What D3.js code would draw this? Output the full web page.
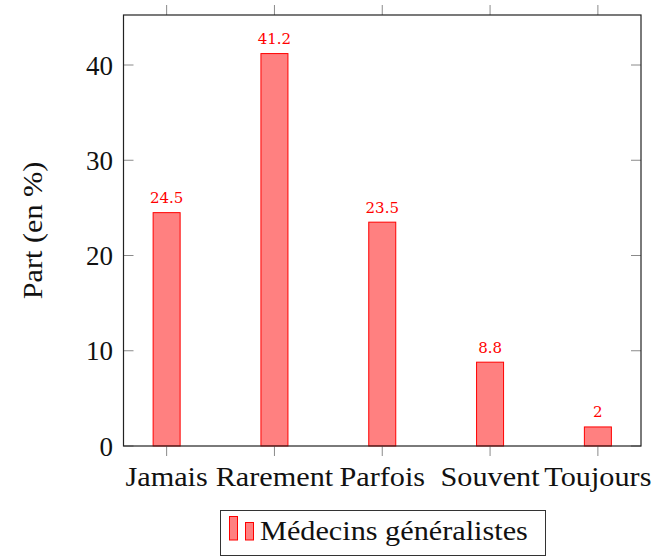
<!DOCTYPE html>
<html><head><meta charset="utf-8">
<script src="https://cdn.jsdelivr.net/npm/d3@7"></script>
<style>
body{margin:0;background:#fff}
svg{display:block}
svg text{font-family:"Liberation Serif",serif;font-size:27px;fill:#111}
svg text.val{font-family:"DejaVu Serif",serif;font-size:15px;fill:#ff0000}
</style>
</head><body><svg id="c" width="657" height="558"></svg>
<script>
const categories = ["Jamais","Rarement","Parfois","Souvent","Toujours"];
const values = [24.5, 41.2, 23.5, 8.8, 2];
const yTicks = [0, 10, 20, 30, 40];
const seriesName = "Médecins généralistes";
const yLabel = "Part (en %)";

const svg = d3.select("#c");
const L = 123.5, R = 641, T = 15, B = 446;
const x = d3.scalePoint().domain(categories).range([L, R]).padding(0.4);
const y = d3.scaleLinear().domain([0, 45.25]).range([B, T]);
const bw = 27;

// bars
svg.append("g").selectAll("rect").data(values).join("rect")
  .attr("x", (d,i) => x(categories[i]) - bw/2)
  .attr("y", d => y(d))
  .attr("width", bw)
  .attr("height", d => y(0) - y(d))
  .attr("fill", "#ff8080").attr("stroke", "#ff0000").attr("stroke-width", 1);

// value labels
svg.append("g").selectAll("text").data(values).join("text")
  .attr("class", "val")
  .attr("x", (d,i) => x(categories[i]))
  .attr("y", d => y(d) - 9.5)
  .attr("text-anchor", "middle")
  .text(d => d);

// ticks
const tk = svg.append("g").attr("stroke", "#8a8a8a").attr("stroke-width", 1);
categories.forEach(c => {
  tk.append("line").attr("x1", x(c)).attr("x2", x(c)).attr("y1", B).attr("y2", B + 10);
  tk.append("line").attr("x1", x(c)).attr("x2", x(c)).attr("y1", T).attr("y2", T - 10);
});
yTicks.forEach(v => {
  tk.append("line").attr("x1", L).attr("x2", L + 10).attr("y1", y(v)).attr("y2", y(v));
  tk.append("line").attr("x1", R).attr("x2", R - 10).attr("y1", y(v)).attr("y2", y(v));
});

// frame
svg.append("rect").attr("x", L).attr("y", T).attr("width", R - L).attr("height", B - T)
  .attr("fill", "none").attr("stroke", "#222").attr("stroke-width", 1.2);

// y tick labels
svg.append("g").selectAll("text").data(yTicks).join("text")
  .attr("x", 113).attr("y", d => y(d) + 9.5)
  .attr("text-anchor", "end")
  .text(d => d);

// category labels
svg.append("g").selectAll("text").data(categories).join("text")
  .attr("class", "stretch")
  .attr("x", d => x(d)).attr("y", 486)
  .attr("text-anchor", "middle")
  .text(d => d);

// y axis label
svg.append("text").attr("class", "stretch")
  .attr("transform", `translate(42,${(T + B) / 2}) rotate(-90)`)
  .attr("text-anchor", "middle")
  .text(yLabel);

// legend
const lg = svg.append("g");
lg.append("rect").attr("x", 220.5).attr("y", 510.5).attr("width", 325).attr("height", 45)
  .attr("fill", "#fff").attr("stroke", "#333").attr("stroke-width", 1);
lg.append("rect").attr("x", 229.5).attr("y", 516.5).attr("width", 8).attr("height", 23.5)
  .attr("fill", "#ff8080").attr("stroke", "#ff0000");
lg.append("rect").attr("x", 245.5).attr("y", 522.5).attr("width", 8).attr("height", 17.5)
  .attr("fill", "#ff8080").attr("stroke", "#ff0000");
lg.append("text").attr("class", "stretch")
  .attr("x", 260).attr("y", 540)
  .text(seriesName);

svg.selectAll("text.stretch").each(function() {
  const len = this.getComputedTextLength();
  d3.select(this).attr("textLength", len * 1.12).attr("lengthAdjust", "spacingAndGlyphs");
});
</script></body></html>
